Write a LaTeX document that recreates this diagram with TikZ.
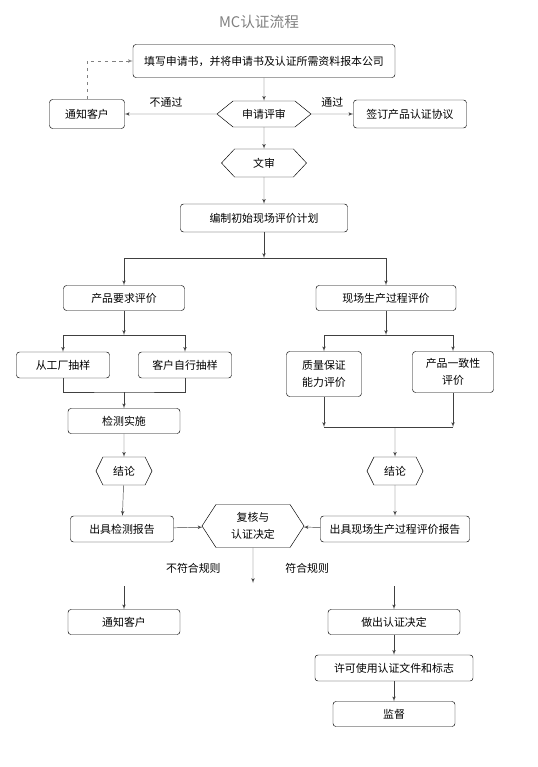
\documentclass[tikz,border=0pt]{standalone}
\usepackage{fontspec}
\setmainfont{Noto Sans CJK SC}
\usetikzlibrary{arrows,calc,positioning,shapes.symbols}
\newlength\px
\setlength\px{0.03cm}
\tikzset{%
	box/.style      = {draw, rectangle, rounded corners=3\px, minimum height=26\px, inner sep=1pt, align=center, font=\fontsize{9.3}{14.5}\selectfont},
	hexa/.style     = {draw, signal, signal to=west and east, inner sep=0pt, minimum height=28\px, align=center, font=\fontsize{9.3}{14.5}\selectfont},
	note/.style     = {font=\fontsize{9.3}{11}\selectfont, inner sep=1pt},
	waypoint/.style = {coordinate},
	conn/.style     = {draw=black!75, ->},
}
\begin{document}
\begin{tikzpicture}[x=1\px,y=-1\px,>=latex',node distance=50\px]
	\useasboundingbox (0,0) rectangle (537,767);
	\node [font=\fontsize{12.5}{14}\selectfont, text=black!50] (title) at (259,22) {MC认证流程};
	
	% application
	\node [box, minimum width=262\px, minimum height=33\px] (apply) at (264,61) {填写申请书，并将申请书及认证所需资料报本公司};
	\node [hexa, minimum width=94\px, minimum height=26\px, signal pointer angle=78] (review) [below of=apply, node distance=53\px] {申请评审};
	\node [box, minimum width=75\px, minimum height=29\px] (notifyA) [left of=review, node distance=177\px] {通知客户};
	\node [box, minimum width=113\px, minimum height=28\px] (sign) [right of=review, node distance=146\px] {签订产品认证协议};
	\node [hexa, minimum width=85\px, signal pointer angle=94] (docreview) [below of=review, node distance=49\px] {文审};
	\node [box, minimum width=167\px, minimum height=28\px] (plan) [below of=docreview, node distance=55\px] {编制初始现场评价计划};
	\node [waypoint] (fork1) at (264,258) {};
	
	% left branch
	\node [box, minimum width=121\px, minimum height=25\px] (prodreq) at (124,298) {产品要求评价};
	\node [waypoint] (fork2) at (124,335) {};
	\node [box, minimum width=93\px] (factory) at (63,365) {从工厂抽样};
	\node [box, minimum width=93\px] (selfsample) at (185,365) {客户自行抽样};
	\node [waypoint] (join1) at (124,392) {};
	\node [box, minimum width=112\px, minimum height=25\px] (testing) at (124,421) {检测实施};
	\node [hexa, minimum width=56\px, signal pointer angle=127] (conclL) [below of=testing, node distance=50\px] {结论};
	\node [box, minimum width=103\px] (testrep) at (122,529) {出具检测报告};
	
	% right branch
	\node [box, minimum width=140\px, minimum height=25\px] (siteeval) at (386,298) {现场生产过程评价};
	\node [waypoint] (fork3) at (386,335) {};
	\node [box, minimum width=75\px, minimum height=45\px] (quality) at (324,374) {质量保证\\能力评价};
	\node [box, minimum width=81\px, minimum height=41\px] (consist) at (453,372) {产品一致性\\评价};
	\node [waypoint] (join2) at (395,427) {};
	\node [hexa, minimum width=56\px, signal pointer angle=127] (conclR) at (395,471) {结论};
	\node [box, minimum width=149\px] (siterep) [below of=conclR, node distance=58\px] {出具现场生产过程评价报告};
	
	% decision
	\node [hexa, minimum width=102\px, minimum height=43\px, signal pointer angle=114] (decision) at (253,526) {复核与\\认证决定};
	\node [waypoint] (decend) at (253,583) {};
	\node [waypoint] (failstart) at (124,586) {};
	\node [waypoint] (passstart) at (394,586) {};
	\node [box, minimum width=112\px, minimum height=25\px] (notifyB) at (124,622) {通知客户};
	\node [box, minimum width=132\px, minimum height=25\px] (decide) at (394,622) {做出认证决定};
	\node [box, minimum width=158\px] (licence) [below of=decide, node distance=46\px] {许可使用认证文件和标志};
	\node [box, minimum width=122\px, minimum height=25\px] (supervise) [below of=licence, node distance=46\px] {监督};
	
	\draw [conn] (apply) -- (review);
	\draw [conn] (review) -- node [note, above=5\px, pos=0.55] {不通过} (notifyA);
	\draw [conn] (review) -- node [note, above=5\px] {通过} (sign);
	\draw [conn, draw=gray, dashed] (notifyA.north) |- (apply.west);
	\draw [conn] (review) -- (docreview);
	\draw [conn] (docreview) -- (plan);
	\draw [conn] (plan) -- (fork1);
	\draw [conn] (fork1) -| (prodreq);
	\draw [conn] (fork1) -| (siteeval);
	
	\draw [conn] (prodreq) -- (fork2);
	\draw [conn] (fork2) -| (factory);
	\draw [conn] (fork2) -| (selfsample);
	\draw [draw=black!75] (factory.south) |- (join1) -| (selfsample.south);
	\draw [conn] (join1) -- (testing);
	\draw [conn] (testing) -- (conclL);
	\draw [conn] (conclL) -- (testrep);
	
	\draw [conn] (siteeval) -- (fork3);
	\draw [conn] (fork3) -| (quality);
	\draw [conn] (fork3) -| (consist);
	\draw [conn] (quality.south) -- (quality.south |- join2);
	\draw [conn] (consist.south) -- (consist.south |- join2);
	\draw [draw=black!75] (quality.south |- join2) -- (consist.south |- join2);
	\draw [conn] (join2) -- (conclR);
	\draw [conn] (conclR) -- (siterep);
	
	\draw [conn] (testrep) -- (decision);
	\draw [conn] (siterep) -- (decision);
	\draw [conn] (decision) -- node [note, pos=0.58, left=31\px] {不符合规则} node [note, pos=0.58, right=31\px] {符合规则} (decend);
	\draw [conn] (failstart) -- (notifyB);
	\draw [conn] (passstart) -- (decide);
	\draw [conn] (decide) -- (licence);
	\draw [conn] (licence) -- (supervise);
\end{tikzpicture}
\end{document}
